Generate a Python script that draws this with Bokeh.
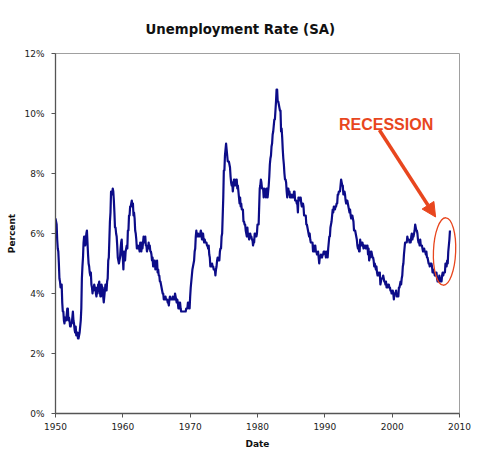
from bokeh.plotting import figure
from bokeh.models import (Range1d, FixedTicker, PrintfTickFormatter, Label, Arrow,
                          NormalHead, Title)
from bokeh.embed import file_html
from bokeh.resources import INLINE

# Monthly unemployment rate (%), seasonally adjusted, Jan 1950 onward
rate_1950s = [
    6.5, 6.4, 6.3, 5.8, 5.5, 5.4, 5.0, 4.5, 4.4, 4.2, 4.2, 4.3,
    3.7, 3.4, 3.4, 3.1, 3.0, 3.2, 3.1, 3.1, 3.3, 3.5, 3.5, 3.1,
    3.2, 3.1, 2.9, 2.9, 3.0, 3.0, 3.2, 3.4, 3.1, 3.0, 2.8, 2.7,
    2.9, 2.6, 2.6, 2.7, 2.5, 2.5, 2.6, 2.7, 2.9, 3.1, 3.5, 4.5,
    4.9, 5.2, 5.7, 5.9, 5.9, 5.6, 5.8, 6.0, 6.1, 5.7, 5.3, 5.0,
    4.9, 4.7, 4.6, 4.7, 4.3, 4.2, 4.0, 4.2, 4.1, 4.3, 4.2, 4.2,
    4.0, 3.9, 4.2, 4.0, 4.3, 4.3, 4.4, 4.1, 3.9, 3.9, 4.3, 4.2,
    4.2, 3.9, 3.7, 3.9, 4.1, 4.3, 4.2, 4.1, 4.4, 4.5, 5.1, 5.2,
    5.8, 6.4, 6.7, 7.4, 7.4, 7.3, 7.5, 7.4, 7.1, 6.7, 6.2, 6.2,
    6.0, 5.9, 5.6, 5.2, 5.1, 5.0, 5.1, 5.2, 5.5, 5.7, 5.8, 5.3,
]
rate_1960s = [
    5.2, 4.8, 5.4, 5.2, 5.1, 5.4, 5.5, 5.6, 5.5, 6.1, 6.1, 6.6,
    6.6, 6.9, 6.9, 7.0, 7.1, 6.9, 7.0, 6.6, 6.7, 6.5, 6.1, 6.0,
    5.8, 5.5, 5.6, 5.6, 5.5, 5.5, 5.4, 5.7, 5.6, 5.4, 5.7, 5.5,
    5.7, 5.9, 5.7, 5.7, 5.9, 5.6, 5.6, 5.4, 5.5, 5.5, 5.7, 5.5,
    5.6, 5.4, 5.4, 5.3, 5.1, 5.2, 4.9, 5.0, 5.1, 5.1, 4.8, 5.0,
    4.9, 5.1, 4.7, 4.8, 4.6, 4.6, 4.4, 4.4, 4.3, 4.2, 4.1, 4.0,
    4.0, 3.8, 3.8, 3.8, 3.9, 3.8, 3.8, 3.8, 3.7, 3.7, 3.6, 3.8,
    3.9, 3.8, 3.8, 3.8, 3.8, 3.9, 3.8, 3.8, 3.8, 4.0, 3.9, 3.8,
    3.7, 3.8, 3.7, 3.5, 3.5, 3.7, 3.7, 3.5, 3.4, 3.4, 3.4, 3.4,
    3.4, 3.4, 3.4, 3.4, 3.4, 3.5, 3.5, 3.5, 3.7, 3.7, 3.5, 3.5,
]
rate_1970s = [
    3.9, 4.2, 4.4, 4.6, 4.8, 4.9, 5.0, 5.1, 5.4, 5.5, 5.9, 6.1,
    5.9, 5.9, 6.0, 5.9, 5.9, 5.9, 6.0, 6.1, 6.0, 5.8, 6.0, 6.0,
    5.8, 5.7, 5.8, 5.7, 5.7, 5.7, 5.6, 5.6, 5.5, 5.6, 5.3, 5.2,
    4.9, 5.0, 4.9, 5.0, 4.9, 4.9, 4.8, 4.8, 4.8, 4.6, 4.8, 4.9,
    5.1, 5.2, 5.1, 5.1, 5.1, 5.4, 5.5, 5.5, 5.9, 6.0, 6.6, 7.2,
    8.1, 8.1, 8.6, 8.8, 9.0, 8.8, 8.6, 8.4, 8.4, 8.4, 8.3, 8.2,
    7.9, 7.7, 7.6, 7.7, 7.4, 7.6, 7.8, 7.8, 7.6, 7.7, 7.8, 7.8,
    7.5, 7.6, 7.4, 7.2, 7.0, 7.2, 6.9, 7.0, 6.8, 6.8, 6.8, 6.4,
    6.4, 6.3, 6.3, 6.1, 6.0, 5.9, 6.2, 5.9, 6.0, 5.8, 5.9, 6.0,
    5.9, 5.9, 5.8, 5.8, 5.6, 5.7, 5.7, 6.0, 5.9, 6.0, 5.9, 6.0,
]
rate_1980s = [
    6.3, 6.3, 6.3, 6.9, 7.5, 7.6, 7.8, 7.7, 7.5, 7.5, 7.5, 7.2,
    7.5, 7.4, 7.4, 7.2, 7.5, 7.5, 7.2, 7.4, 7.6, 7.9, 8.3, 8.5,
    8.6, 8.9, 9.0, 9.3, 9.4, 9.6, 9.8, 9.8, 10.1, 10.4, 10.8, 10.8,
    10.4, 10.4, 10.3, 10.2, 10.1, 10.1, 9.4, 9.5, 9.2, 8.8, 8.5, 8.3,
    8.0, 7.8, 7.8, 7.7, 7.4, 7.2, 7.5, 7.5, 7.3, 7.4, 7.2, 7.3,
    7.3, 7.2, 7.2, 7.3, 7.2, 7.4, 7.4, 7.1, 7.1, 7.1, 7.0, 7.0,
    6.7, 7.2, 7.2, 7.1, 7.2, 7.2, 7.0, 6.9, 7.0, 7.0, 6.9, 6.6,
    6.6, 6.6, 6.6, 6.3, 6.3, 6.2, 6.1, 6.0, 5.9, 6.0, 5.8, 5.7,
    5.7, 5.7, 5.7, 5.4, 5.6, 5.4, 5.4, 5.6, 5.4, 5.4, 5.3, 5.3,
    5.4, 5.2, 5.0, 5.2, 5.2, 5.3, 5.2, 5.2, 5.3, 5.3, 5.4, 5.4,
]
rate_1990s = [
    5.4, 5.3, 5.2, 5.4, 5.4, 5.2, 5.5, 5.7, 5.9, 5.9, 6.2, 6.3,
    6.4, 6.6, 6.8, 6.7, 6.9, 6.9, 6.8, 6.9, 6.9, 7.0, 7.0, 7.3,
    7.3, 7.4, 7.4, 7.4, 7.6, 7.8, 7.7, 7.6, 7.6, 7.3, 7.4, 7.4,
    7.3, 7.1, 7.0, 7.1, 7.1, 7.0, 6.9, 6.8, 6.7, 6.8, 6.6, 6.5,
    6.6, 6.6, 6.5, 6.4, 6.1, 6.1, 6.1, 6.0, 5.9, 5.8, 5.6, 5.5,
    5.6, 5.4, 5.4, 5.8, 5.6, 5.6, 5.7, 5.7, 5.6, 5.5, 5.6, 5.6,
    5.6, 5.5, 5.5, 5.6, 5.6, 5.3, 5.5, 5.1, 5.2, 5.2, 5.4, 5.4,
    5.3, 5.2, 5.2, 5.1, 4.9, 5.0, 4.9, 4.8, 4.9, 4.7, 4.6, 4.7,
    4.6, 4.6, 4.7, 4.3, 4.4, 4.5, 4.5, 4.5, 4.6, 4.5, 4.4, 4.4,
    4.3, 4.4, 4.2, 4.3, 4.2, 4.3, 4.3, 4.2, 4.2, 4.1, 4.1, 4.0,
]
rate_2000s = [
    4.0, 4.1, 4.0, 3.8, 4.0, 4.0, 4.0, 4.1, 3.9, 3.9, 3.9, 3.9,
    4.2, 4.2, 4.3, 4.4, 4.3, 4.5, 4.6, 4.9, 5.0, 5.3, 5.5, 5.7,
    5.7, 5.7, 5.7, 5.9, 5.8, 5.8, 5.8, 5.7, 5.7, 5.7, 5.9, 6.0,
    5.8, 5.9, 5.9, 6.0, 6.1, 6.3, 6.2, 6.1, 6.1, 6.0, 5.8, 5.7,
    5.7, 5.6, 5.8, 5.6, 5.6, 5.6, 5.5, 5.4, 5.4, 5.5, 5.4, 5.4,
    5.3, 5.4, 5.2, 5.2, 5.1, 5.0, 5.0, 4.9, 5.0, 5.0, 5.0, 4.9,
    4.7, 4.8, 4.7, 4.7, 4.6, 4.6, 4.7, 4.7, 4.5, 4.4, 4.5, 4.4,
    4.6, 4.5, 4.4, 4.5, 4.4, 4.6, 4.7, 4.6, 4.7, 4.7, 4.7, 5.0,
    5.0, 4.9, 5.1, 5.0, 5.4, 5.6, 5.8, 6.1,
]
start_year = 1950
x_ticks = [1950, 1960, 1970, 1980, 1990, 2000, 2010]
y_ticks = [0, 2, 4, 6, 8, 10, 12]

rates = rate_1950s + rate_1960s + rate_1970s + rate_1980s + rate_1990s + rate_2000s
dates = [start_year + i / 12.0 for i in range(len(rates))]

RED = "#e8461e"
FONT = "DejaVu Sans"

p = figure(width=480, height=453, output_backend="svg", toolbar_location=None,
           x_range=Range1d(1950, 2010), y_range=Range1d(0, 12),
           min_border_left=55, min_border_right=21, min_border_top=53,
           min_border_bottom=40, background_fill_color="white",
           border_fill_color="white")

p.title = Title(text="Unemployment Rate (SA)", align="left", offset=90,
                standoff=33,
                text_font=FONT, text_font_size="13.3px", text_font_style="bold",
                text_color="#111111")

p.outline_line_color = "#a0a0a0"
p.outline_line_width = 1
p.xgrid.visible = False
p.ygrid.visible = False

for ax in (p.xaxis[0], p.yaxis[0]):
    ax.axis_line_color = "#555555"
    ax.axis_line_width = 1.3
    ax.major_tick_line_color = "#555555"
    ax.major_tick_in = 0
    ax.major_tick_out = 4
    ax.minor_tick_line_color = None
    ax.major_label_text_font = FONT
    ax.major_label_text_font_size = "9px"
    ax.major_label_text_color = "#222222"
    ax.axis_label_text_font = FONT
    ax.axis_label_text_font_size = "9px"
    ax.axis_label_text_font_style = "bold"
    ax.axis_label_text_color = "#111111"

p.xaxis.ticker = FixedTicker(ticks=x_ticks)
p.yaxis.ticker = FixedTicker(ticks=y_ticks)
p.yaxis.formatter = PrintfTickFormatter(format="%d%%")
p.xaxis.axis_label = "Date"
p.yaxis.axis_label = "Percent"
p.xaxis.major_label_standoff = 5
p.yaxis.major_label_standoff = 7
p.xaxis.axis_label_standoff = 6
p.yaxis.axis_label_standoff = 4

p.line(dates, rates, line_color="#0c0c88", line_width=2.2, line_join="round")

# Annotation
p.ellipse(x=[2007.78], y=[5.4], width=[3.3], height=[2.25], angle=[-0.04],
          fill_color=None, line_color=RED, line_width=1.3)
p.add_layout(Arrow(end=NormalHead(size=14, fill_color=RED, line_color=RED),
                   x_start=1998.1, y_start=9.45, x_end=2006.45, y_end=6.55,
                   line_color=RED, line_width=3.5))
p.add_layout(Label(x=1999.1, y=9.63, text="RECESSION", text_align="center",
                   text_baseline="alphabetic", text_font="Liberation Sans",
                   text_font_size="16px", text_font_style="bold", text_color=RED))

open("out.html", "w").write(file_html(p, INLINE))
